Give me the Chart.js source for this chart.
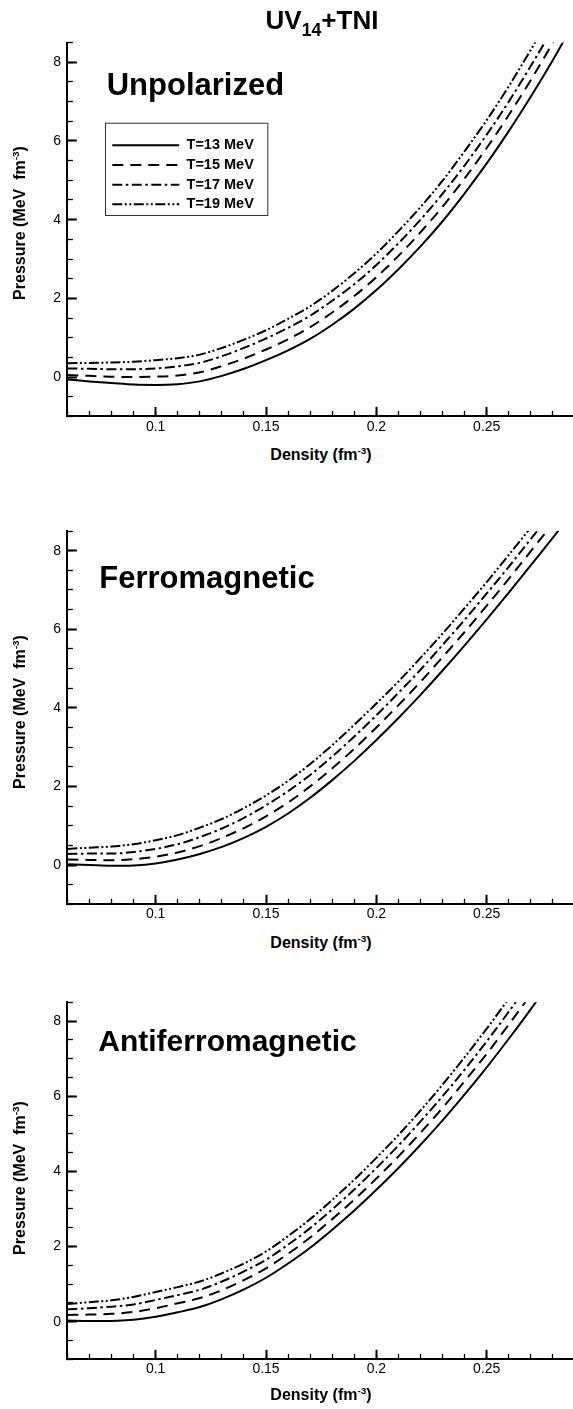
<!DOCTYPE html>
<html><head><meta charset="utf-8">
<script src="https://cdn.jsdelivr.net/npm/chart.js@4.4.1/dist/chart.umd.min.js"></script>
<style>
html,body{margin:0;padding:0;background:#fff;overflow:hidden;width:573px;height:1409px;}
body{position:relative;font-family:"Liberation Sans",Arial,Helvetica,sans-serif;color:#000;}
canvas{position:absolute;left:0;}
.t{position:absolute;white-space:nowrap;font-weight:bold;line-height:1;z-index:2;}
.c{transform:translate(-50%,-50%);}
.r{transform:translate(-50%,-50%) rotate(-90deg);}
sup{font-size:0.62em;vertical-align:baseline;position:relative;top:-0.62em;}
sub{font-size:0.68em;vertical-align:baseline;position:relative;top:0.38em;}
</style></head><body>
<canvas id="c1" width="576" height="442" style="top:0px"></canvas>
<canvas id="c2" width="576" height="442" style="top:490px"></canvas>
<canvas id="c3" width="576" height="430" style="top:960px"></canvas>

<div class="t c" style="left:322px;top:20px;font-size:26px">UV<sub>14</sub>+TNI</div>

<div class="t" style="left:106.7px;top:68.8px;font-size:31px">Unpolarized</div>
<div class="t" style="left:99.3px;top:562.1px;font-size:31px">Ferromagnetic</div>
<div class="t" style="left:98.3px;top:1026.3px;font-size:30px">Antiferromagnetic</div>

<div class="t c" style="left:321px;top:455px;font-size:16px">Density (fm<sup>-3</sup>)</div>
<div class="t c" style="left:321px;top:943px;font-size:16px">Density (fm<sup>-3</sup>)</div>
<div class="t c" style="left:321px;top:1395px;font-size:16px">Density (fm<sup>-3</sup>)</div>

<div class="t r" style="left:19.5px;top:223px;font-size:16px">Pressure (MeV&nbsp; fm<sup>-3</sup>)</div>
<div class="t r" style="left:19.5px;top:711.5px;font-size:16px">Pressure (MeV&nbsp; fm<sup>-3</sup>)</div>
<div class="t r" style="left:19.5px;top:1178px;font-size:16px">Pressure (MeV&nbsp; fm<sup>-3</sup>)</div>

<script>
// ---- data ----
const density = [0.06,0.07,0.08,0.09,0.10,0.11,0.12,0.13,0.14,0.15,0.16,0.17,0.18,0.19,0.20,0.21,0.22,0.23,0.24,0.25,0.26,0.27,0.28,0.29];
const seriesLabels = ['T=13 MeV','T=15 MeV','T=17 MeV','T=19 MeV'];

const unpolT13 = [-0.06,-0.11,-0.15,-0.19,-0.20,-0.18,-0.11,0.03,0.21,0.43,0.68,0.97,1.33,1.74,2.21,2.74,3.32,3.96,4.67,5.43,6.25,7.13,8.06,9.05];
const unpolT15 = [0.05,0.03,0.01,0.00,0.01,0.04,0.12,0.28,0.47,0.70,0.96,1.27,1.64,2.06,2.54,3.08,3.68,4.33,5.05,5.82,6.66,7.55,8.50,9.50];
const unpolT17 = [0.22,0.21,0.20,0.20,0.22,0.27,0.36,0.53,0.74,0.98,1.25,1.56,1.94,2.36,2.85,3.40,4.00,4.66,5.38,6.16,7.00,7.91,8.86,9.87];
const unpolT19 = [0.35,0.36,0.37,0.39,0.43,0.48,0.57,0.74,0.95,1.19,1.48,1.80,2.19,2.64,3.14,3.71,4.32,4.99,5.74,6.53,7.39,8.32,9.29,10.32];

const ferroT13 = [0.02,0.00,-0.02,-0.01,0.04,0.14,0.28,0.46,0.69,0.97,1.31,1.71,2.16,2.65,3.18,3.74,4.33,4.95,5.59,6.25,6.93,7.63,8.33,9.05];
const ferroT15 = [0.14,0.13,0.12,0.15,0.21,0.32,0.48,0.69,0.94,1.24,1.59,2.00,2.46,2.96,3.50,4.07,4.66,5.29,5.93,6.60,7.28,7.99,8.69,9.42];
const ferroT17 = [0.28,0.29,0.29,0.33,0.41,0.53,0.71,0.93,1.20,1.52,1.88,2.29,2.76,3.27,3.81,4.38,4.97,5.60,6.24,6.91,7.59,8.30,9.00,9.73];
const ferroT19 = [0.41,0.44,0.47,0.53,0.63,0.76,0.95,1.17,1.45,1.77,2.14,2.57,3.05,3.57,4.11,4.67,5.27,5.89,6.54,7.20,7.89,8.59,9.30,10.02];

const antiT13 = [0.03,0.02,0.02,0.05,0.13,0.25,0.39,0.60,0.86,1.17,1.55,1.97,2.45,2.96,3.51,4.09,4.71,5.36,6.05,6.77,7.53,8.32,9.15,10.02];
const antiT15 = [0.18,0.19,0.21,0.26,0.36,0.49,0.63,0.84,1.11,1.42,1.81,2.24,2.73,3.25,3.81,4.40,5.03,5.69,6.40,7.13,7.91,8.71,9.56,10.44];
const antiT17 = [0.33,0.36,0.40,0.46,0.58,0.71,0.85,1.07,1.34,1.65,2.05,2.49,2.99,3.52,4.09,4.69,5.33,6.00,6.71,7.46,8.25,9.07,9.93,10.83];
const antiT19 = [0.47,0.52,0.57,0.66,0.79,0.92,1.07,1.29,1.55,1.87,2.28,2.73,3.24,3.78,4.36,4.97,5.62,6.31,7.04,7.80,8.60,9.43,10.30,11.21];

const xRange = [0.06, 0.29];
const yRange = [-1, 8.5];
const xMajorStep = 0.05, xMinorStep = 0.01;
const yMajorStep = 2, yMinorStep = 0.5;

// ---- styles ----
const FONT = "'Liberation Sans', Arial, Helvetica, sans-serif";
const dashes = [[], [11,7], [10,3.5,2.5,3.5], [10,2.5,2,2.5,2,2.5]];

const legendMover = {
  id: 'legendMover',
  beforeDraw(chart, args, o) {
    const lg = chart.legend;
    if (!lg || !lg.options.display) return;
    lg.left = o.x; lg.top = o.y; lg.right = o.x + 400; lg.bottom = o.y + 400;
  },
  afterDraw(chart, args, o) {
    const ctx = chart.ctx;
    ctx.save();
    ctx.strokeStyle = '#333'; ctx.lineWidth = 1; ctx.setLineDash([]);
    ctx.strokeRect(o.box[0] + 0.5, o.box[1] + 0.5, o.box[2], o.box[3]);
    ctx.restore();
  }
};

function axisCommon(tickLen, tickW) {
  return {
    type: 'linear',
    grid: { drawOnChartArea: false, drawTicks: true, tickLength: tickLen, tickWidth: tickW, tickColor: '#000' },
    border: { display: true, color: '#000', width: 2 }
  };
}

const fmt = v => String(Number(Number(v).toFixed(3)));

function makeChart(id, series, pad, legendOpts) {
  const datasets = series.map((vals, k) => ({
    label: seriesLabels[k],
    data: density.map((x, i) => ({ x: x, y: vals[i] })),
    borderColor: '#000', backgroundColor: '#000', borderWidth: 2, borderDash: dashes[k],
    pointRadius: 0, pointHoverRadius: 0, pointStyle: 'line', pointRotation: 180,
    fill: false, cubicInterpolationMode: 'monotone',
    xAxisID: 'x', yAxisID: 'y'
  }));
  const tickFont = { family: FONT, size: 14 };
  const opts = {
    responsive: false, animation: false, events: [],
    layout: { padding: pad },
    plugins: {
      tooltip: { enabled: false },
      legend: legendOpts ? {
        display: true, position: 'chartArea', align: 'start',
        labels: {
          usePointStyle: true, pointStyleWidth: 67, boxHeight: 14, padding: 5.2,
          color: '#000', font: { family: FONT, size: 14.5, weight: 'bold' },
          generateLabels(chart) {
            const items = Chart.defaults.plugins.legend.labels.generateLabels(chart);
            items.forEach(it => {
              const ds = chart.data.datasets[it.datasetIndex];
              it.lineDash = ds.borderDash; it.lineWidth = ds.borderWidth;
              it.strokeStyle = ds.borderColor; it.pointStyle = 'line'; it.rotation = 180;
            });
            return items;
          }
        }
      } : { display: false },
      legendMover: legendOpts || {}
    },
    scales: {
      xMinor: Object.assign(axisCommon(-5.5, 1.3), {
        position: 'bottom', weight: 0, min: xRange[0], max: xRange[1],
        ticks: { stepSize: xMinorStep, display: false, includeBounds: false },
        afterFit(s) { s.height = 0; }
      }),
      x: Object.assign(axisCommon(-9.5, 2), {
        position: 'bottom', weight: 1, min: xRange[0], max: xRange[1],
        ticks: { stepSize: xMajorStep, includeBounds: false, padding: 11.4, color: '#000', font: tickFont, maxRotation: 0, autoSkip: false, callback: fmt },
        afterFit(s) { s.height = 22; }
      }),
      yMinor: Object.assign(axisCommon(-5.5, 1.3), {
        position: 'left', weight: 0, min: yRange[0], max: yRange[1],
        ticks: { stepSize: yMinorStep, display: false },
        afterFit(s) { s.width = 0; }
      }),
      y: Object.assign(axisCommon(-9.5, 2), {
        position: 'left', weight: 1, min: yRange[0], max: yRange[1],
        ticks: { stepSize: yMajorStep, includeBounds: false, padding: 15.9, color: '#000', font: tickFont, autoSkip: false, callback: fmt },
        afterFit(s) { s.width = 67.4; }
      })
    }
  };
  return new Chart(document.getElementById(id), {
    type: 'line', data: { datasets }, options: opts,
    plugins: legendOpts ? [legendMover] : []
  });
}

makeChart('c1', [unpolT13, unpolT15, unpolT17, unpolT19],
  { top: 42.6, bottom: 3.6, left: 0, right: 1 },
  { x: 107.1, y: 132.8, box: [105, 122.7, 162.3, 92.3] });
makeChart('c2', [ferroT13, ferroT15, ferroT17, ferroT19],
  { top: 41, bottom: 5.7, left: 0, right: 1 }, null);
makeChart('c3', [antiT13, antiT15, antiT17, antiT19],
  { top: 42.3, bottom: 8.7, left: 0, right: 1 }, null);
</script>
</body></html>
